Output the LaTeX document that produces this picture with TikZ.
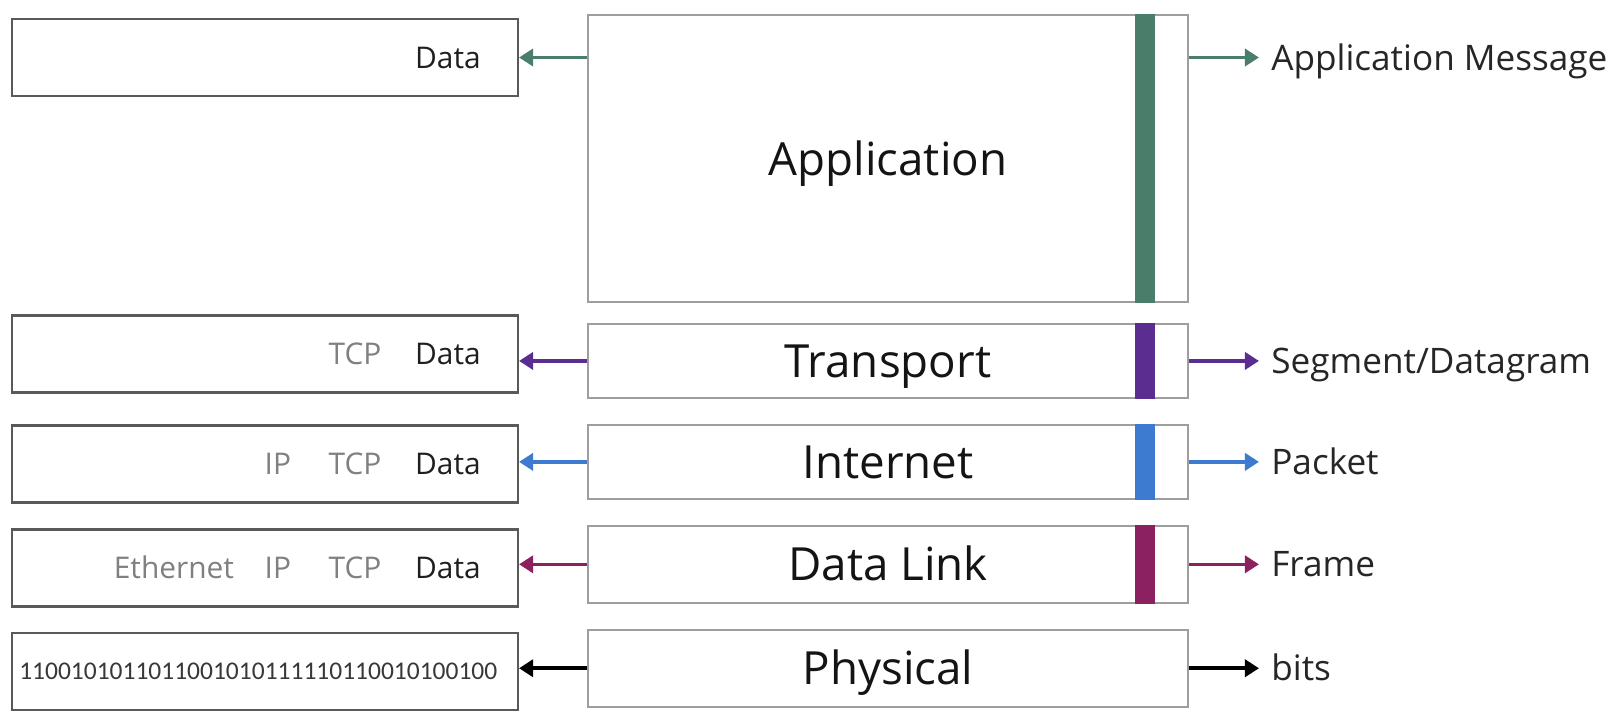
\documentclass[tikz,border=0pt]{standalone}
\usepackage{fontspec}
\setmainfont{Open Sans}
\newfontfamily\bitsfont{Carlito}
\usetikzlibrary{positioning,arrows.meta}

\definecolor{appgreen}{HTML}{4A7D6A}
\definecolor{trpurple}{HTML}{5C2D91}
\definecolor{inetblue}{HTML}{3C7BD0}
\definecolor{linkred}{HTML}{8C2160}
\definecolor{hdrgray}{HTML}{808080}

\begin{document}
\begin{tikzpicture}[node distance=0.5cm,
  layer/.style={draw=black!38, line width=1.1pt, minimum width=12cm, minimum height=1.48cm,
    text height=0.66cm, text depth=0cm, font=\fontsize{26}{30}\selectfont, text=black!92},
  pdu/.style={draw=black!65, line width=1.2pt, minimum width=10.12cm, minimum height=1.54cm},
  word/.style={inner sep=0pt, font=\fontsize{17}{20}\selectfont, text=black!88},
  hdr/.style={word, text=hdrgray},
  lbl/.style={inner sep=0pt, text height=0.5cm, text depth=0cm,
    font=\fontsize{20}{24}\selectfont, text=black!85},
  arr/.style={-{Triangle[length=0.28cm,width=0.34cm]}, line width=2pt}]

  \useasboundingbox (0,0) rectangle (32.4,-14.48);

  % the layers
  \node[layer, minimum height=5.74cm] (app) at (17.76,-3.17) {Application};
  \node[layer] (trans) [below=0.4cm of app] {Transport};
  \node[layer] (inet)  [below=of trans]     {Internet};
  \node[layer, minimum height=1.54cm] (link) [below=of inet] {Data Link};
  \node[layer, minimum height=1.54cm] (phys) [below=of link] {Physical};
  \foreach \n/\c in {app/appgreen, trans/trpurple, inet/inetblue, link/linkred}
    \fill[\c] ([xshift=-1.08cm]\n.north east) rectangle ([xshift=-0.68cm]\n.south east);

  % what each layer hands over
  \node[pdu] (databox) at (5.3,-1.15)  {};
  \node[pdu] (tcpbox)  at (5.3,-7.08)  {};
  \node[pdu] (ipbox)   at (5.3,-9.28)  {};
  \node[pdu] (ethbox)  at (5.3,-11.36) {};
  \node[pdu] (bitbox)  at (5.3,-13.43) {};

  \node[word] (d1) [left=0.76cm of databox.east] {Data};
  \node[word] (d2) [left=0.76cm of tcpbox.east]  {Data};
  \node[hdr]  (t2) [base left=0.66cm of d2]      {TCP};
  \node[word] (d3) [left=0.76cm of ipbox.east]   {Data};
  \node[hdr]  (t3) [base left=0.66cm of d3]      {TCP};
  \node[hdr]  (i3) [base left=0.74cm of t3]      {IP};
  \node[word] (d4) [left=0.76cm of ethbox.east]  {Data};
  \node[hdr]  (t4) [base left=0.66cm of d4]      {TCP};
  \node[hdr]  (i4) [base left=0.74cm of t4]      {IP};
  \node[hdr]  (e4) [base left=0.6cm of i4]       {Ethernet};
  \node[inner sep=0pt, anchor=west, font=\bitsfont\fontsize{14.5}{17}\selectfont, text=black!78]
    (bits) at ([xshift=0.16cm]bitbox.west) {1100101011011001010111110110010100100};

  % names of the units
  \coordinate (appout) at (app.east |- databox);
  \node[lbl] (msg)  [right=1.64cm of appout]     {Application Message};
  \node[lbl] (segm) [right=1.64cm of trans.east] {Segment/Datagram};
  \node[lbl] (pkt)  [right=1.64cm of inet.east]  {Packet};
  \node[lbl] (frm)  [right=1.64cm of link.east]  {Frame};
  \node[lbl] (bts)  [right=1.64cm of phys.east]  {bits};

  \path[arr] (app.west |- databox) edge[appgreen] (databox.east)
             (trans.west) edge[trpurple] (trans.west -| tcpbox.east)
             (inet.west)  edge[inetblue] (inet.west -| ipbox.east)
             (link.west)  edge[linkred]  (link.west -| ethbox.east)
             (phys.west)  edge[black]    (phys.west -| bitbox.east);
  \path[arr, shorten >=0.24cm]
             (appout)     edge[appgreen] (msg.west)
             (trans.east) edge[trpurple] (segm.west)
             (inet.east)  edge[inetblue] (pkt.west)
             (link.east)  edge[linkred]  (frm.west)
             (phys.east)  edge[black]    (bts.west);
\end{tikzpicture}
\end{document}
